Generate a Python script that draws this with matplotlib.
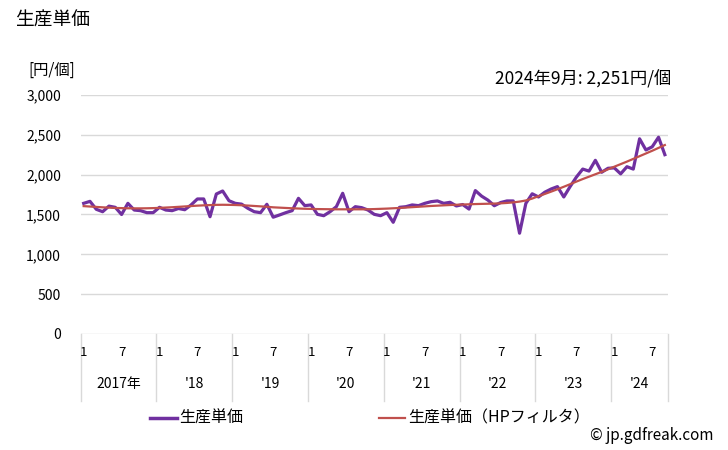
import matplotlib
matplotlib.use("Agg")
import matplotlib.pyplot as plt
import matplotlib.transforms as mtransforms
from matplotlib.lines import Line2D

plt.rcParams['font.family'] = ['Noto Sans CJK JP', 'DejaVu Sans']

years = ["2017年", "'18", "'19", "'20", "'21", "'22", "'23", "'24"]
months_per_year = [12, 12, 12, 12, 12, 12, 12, 9]

price = [
    # 2017
    1640, 1665, 1565, 1535, 1605, 1590, 1500, 1640, 1556, 1548, 1523, 1523,
    # 2018
    1590, 1556, 1548, 1575, 1560, 1620, 1695, 1695, 1472, 1757, 1795, 1673,
    # 2019
    1640, 1630, 1577, 1535, 1523, 1628, 1466, 1494, 1523, 1548, 1703, 1611,
    # 2020
    1620, 1502, 1485, 1535, 1598, 1766, 1535, 1598, 1586, 1556, 1502, 1485,
    # 2021
    1523, 1402, 1590, 1598, 1620, 1611, 1640, 1661, 1670, 1640, 1653, 1607,
    # 2022
    1625, 1568, 1800, 1730, 1680, 1610, 1650, 1670, 1670, 1265, 1640, 1760,
    # 2023
    1720, 1780, 1820, 1850, 1720, 1850, 1970, 2070, 2045, 2180, 2030, 2080,
    # 2024
    2085, 2010, 2100, 2070, 2450, 2310, 2350, 2470, 2251,
]

trend = [
    # 2017
    1605, 1600, 1595, 1590, 1586, 1582, 1580, 1578, 1577, 1577, 1578, 1580,
    # 2018
    1583, 1587, 1591, 1596, 1601, 1606, 1611, 1615, 1618, 1621, 1622, 1621,
    # 2019
    1619, 1616, 1612, 1607, 1602, 1597, 1590, 1586, 1582, 1578, 1575, 1572,
    # 2020
    1570, 1568, 1567, 1566, 1565, 1565, 1565, 1565, 1565, 1566, 1568, 1571,
    # 2021
    1574, 1578, 1582, 1587, 1592, 1597, 1602, 1607, 1611, 1615, 1619, 1622,
    # 2022
    1625, 1628, 1631, 1633, 1635, 1637, 1640, 1645, 1652, 1662, 1676, 1700,
    # 2023
    1730, 1758, 1787, 1817, 1848, 1880, 1913, 1945, 1975, 2005, 2035, 2067,
    # 2024
    2100, 2132, 2164, 2198, 2232, 2266, 2300, 2336, 2372,
]

yticks = [0, 500, 1000, 1500, 2000, 2500, 3000]
ytick_labels = ["0", "500", "1,000", "1,500", "2,000", "2,500", "3,000"]
month_labels = {0: "1", 6: "7"}

purple = "#7030A0"
red = "#C0504D"
grid = "#D9D9D9"

fig = plt.figure(figsize=(7.28, 4.5), dpi=100)
ax = fig.add_axes([0.1106, 0.2578, 0.8070, 0.5311])

x = list(range(len(price)))
ax.plot(x, price, color=purple, lw=2.3, solid_joinstyle='round', zorder=3)
ax.plot(x, trend, color=red, lw=1.6, zorder=4)

ax.set_xlim(-0.5, len(price) - 0.5)
ax.set_ylim(0, 3000)
ax.set_yticks(yticks)
ax.set_yticklabels(ytick_labels, fontsize=10)
ax.tick_params(axis='y', length=0, pad=14)
ax.set_xticks([])
for s in ax.spines.values():
    s.set_visible(False)
ax.grid(axis='y', color=grid, lw=1)
ax.set_axisbelow(True)

trans = mtransforms.blended_transform_factory(ax.transData, ax.transAxes)
sep_bottom = -(401 - 334) / 239.0
start = 0
bounds = [-0.5]
for yl, n in zip(years, months_per_year):
    for m in range(n):
        if m in month_labels:
            ax.text(start + m, -(353 - 334) / 239.0, month_labels[m], transform=trans,
                    ha='center', va='center', fontsize=9.5)
    center = start - 0.5 + n / 2.0
    ax.text(center, -(384 - 334) / 239.0, yl, transform=trans, ha='center',
            va='center', fontsize=10)
    start += n
    bounds.append(start - 0.5)
for b in bounds:
    ax.add_line(Line2D([b, b], [0, sep_bottom], transform=trans, color=grid,
                       lw=1, clip_on=False))

fig.text(15 / 728, 1 - 20 / 450, "生産単価", fontsize=13.5, ha='left', va='center')
fig.text(28 / 728, 1 - 70 / 450, "[円/個]", fontsize=11, ha='left', va='center')
fig.text(671 / 728, 1 - 79 / 450, "2024年9月: 2,251円/個", fontsize=12.5, ha='right', va='center')

# legend
ly = 1 - 418 / 450
fig.add_artist(Line2D([150 / 728, 177 / 728], [ly, ly], color=purple, lw=2.5))
fig.text(179 / 728, ly, "生産単価", fontsize=11.5, ha='left', va='center')
fig.add_artist(Line2D([379 / 728, 405 / 728], [ly, ly], color=red, lw=1.6))
fig.text(408 / 728, ly, "生産単価（HPフィルタ）", fontsize=11.5, ha='left', va='center')

fig.text(713 / 728, 1 - 436 / 450, "© jp.gdfreak.com", fontsize=11, ha='right', va='center')

fig.savefig("out.png", dpi=100)
